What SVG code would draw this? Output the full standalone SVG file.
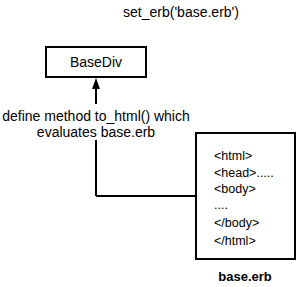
<svg xmlns="http://www.w3.org/2000/svg" width="298" height="287" viewBox="0 0 298 287">
<style>
text{font-family:"Liberation Sans",Arial,sans-serif;fill:#000}
.box{fill:#fff;stroke:#000;stroke-width:2}
.line{fill:none;stroke:#000;stroke-width:2}
.code{font-size:12.5px}
</style>
<rect width="298" height="287" fill="#fff"/>
<text x="181" y="17" font-size="14" text-anchor="middle">set_erb('base.erb')</text>
<g id="connectors">
<path class="line" d="M96,196 L96,140"/>
<path class="line" d="M96,104 L96,88"/>
<path d="M92,89 L96,78 L100,89 Z" fill="#000"/>
<path class="line" d="M96,196 L196,196"/>
</g>
<g id="BaseDiv">
<rect class="box" x="46" y="47" width="100" height="30"/>
<text x="96" y="67" font-size="14" text-anchor="middle">BaseDiv</text>
</g>
<g id="label">
<text x="96" y="121" font-size="14" text-anchor="middle">define method to_html() which</text>
<text x="96" y="137" font-size="14" text-anchor="middle">evaluates base.erb</text>
</g>
<g id="base_erb">
<rect class="box" x="196" y="133" width="99" height="126"/>
<text class="code" x="214" y="160">&lt;html&gt;</text>
<text class="code" x="214" y="177">&lt;head&gt;.....</text>
<text class="code" x="214" y="193">&lt;body&gt;</text>
<text class="code" x="214" y="209">....</text>
<text class="code" x="214" y="227">&lt;/body&gt;</text>
<text class="code" x="214" y="245">&lt;/html&gt;</text>
<text x="245" y="281" font-size="13" font-weight="bold" text-anchor="middle">base.erb</text>
</g>
</svg>
